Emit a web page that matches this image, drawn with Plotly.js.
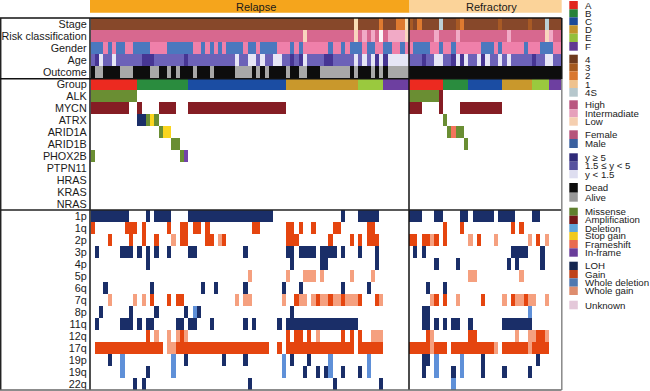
<!DOCTYPE html>
<html><head><meta charset="utf-8">
<script src="https://cdn.plot.ly/plotly-3.0.1.min.js"></script>
<style>html,body{margin:0;padding:0;background:#fff}#c{width:650px;height:391px}</style>
</head><body><div id="c"></div>
<script>
// state codes
const GA=0,GB=1,GC=2,GD=3,GE=4,GF=5,
      S4=6,S3=7,S2=8,S1=9,S4S=10,
      HIGH=11,INTER=12,LOW=13,
      FEMALE=14,MALE=15,
      AGE5=16,AGE15=17,AGE0=18,
      DEAD=19,ALIVE=20,
      MIS=21,AMP=22,DEL=23,STOP=24,FS=25,INF=26,
      LOH=27,GAIN=28,WDEL=29,WGAIN=30,UNK=31;
const stateColors=["#EC2A20","#2A8C3E","#1B4DA3","#C9982C","#9AC93E","#6D3FA0",
 "#87482A","#A85A25","#DE7A30","#F8DDB4","#BCD0D6",
 "#D7688F","#F1AAC6","#F9D6BE",
 "#EF80AA","#4B78BE",
 "#463593","#6C62B8","#E6E6F6",
 "#0D0D0D","#A8A8A8",
 "#6A8E33","#851D24","#5AA6DC","#FAD51F","#F4745C","#7342A8",
 "#1A2E68","#E5450F","#5F90D8","#F5A07F","#FBF6F9"];

const nSamples=111;
const rowLabels=["Stage","Risk classification","Gender","Age","Outcome","Group","ALK","MYCN","ATRX","ARID1A","ARID1B","PHOX2B","PTPN11","HRAS","KRAS","NRAS","1p","1q","2p","3p","4p","5p","6q","7q","8p","11q","12q","17q","19p","19q","22q"];

// Each row: [state, first sample, last sample]
const stage=[[S4,0,110],[S1,62,62],[S2,68,68],[S2,72,73],[S1,74,74],[S3,75,75],[S2,77,77],[S4S,82,82],[S3,86,86],[S2,87,87],[S3,96,96],[S3,103,103],[S4S,107,107]];
const risk=[[HIGH,0,110],[LOW,50,50],[LOW,62,62],[INTER,64,64],[INTER,66,66],[UNK,68,68],[INTER,70,73],[LOW,74,74],[INTER,81,81],[INTER,86,86],[INTER,98,98],[LOW,107,107],[INTER,108,108]];
const gender=[[MALE,0,2],[FEMALE,3,3],[MALE,4,4],[FEMALE,5,5],[MALE,6,7],[FEMALE,8,9],[MALE,10,13],[FEMALE,14,17],[MALE,18,23],[FEMALE,24,25],[MALE,26,26],[FEMALE,27,27],[MALE,28,28],[FEMALE,29,29],[MALE,30,30],[FEMALE,31,31],[MALE,32,35],[FEMALE,36,36],[MALE,37,38],[FEMALE,39,39],[MALE,40,43],[FEMALE,44,46],[MALE,47,47],[FEMALE,48,48],[MALE,49,49],[FEMALE,50,55],[MALE,56,56],[FEMALE,57,58],[MALE,59,59],[FEMALE,60,60],[MALE,61,63],[FEMALE,64,64],[MALE,65,66],[FEMALE,67,68],[MALE,69,70],[FEMALE,71,72],[MALE,73,73],[FEMALE,74,75],[MALE,76,79],[FEMALE,80,81],[MALE,82,82],[FEMALE,83,84],[MALE,85,85],[FEMALE,86,91],[MALE,92,94],[FEMALE,95,95],[MALE,96,96],[FEMALE,97,101],[MALE,102,102],[FEMALE,103,105],[MALE,106,108],[FEMALE,109,110]];
const age=[[AGE15,0,110],[AGE5,1,1],[AGE0,2,2],[AGE0,5,5],[AGE5,12,14],[AGE5,22,22],[AGE0,34,34],[AGE0,37,38],[AGE0,40,40],[AGE0,43,44],[AGE5,47,47],[AGE5,49,49],[AGE0,50,50],[AGE5,55,56],[AGE0,62,62],[AGE0,64,64],[AGE0,66,66],[AGE5,67,67],[AGE0,68,68],[AGE5,69,69],[AGE0,70,74],[AGE5,78,78],[AGE0,81,82],[AGE5,85,85],[AGE0,86,86],[AGE5,87,87],[AGE0,88,88],[AGE0,91,91],[AGE5,92,92],[AGE0,93,93],[AGE0,96,96],[AGE0,98,98],[AGE5,104,104],[AGE0,107,108]];
const outcome=[[DEAD,0,110],[ALIVE,1,2],[ALIVE,7,9],[ALIVE,14,15],[ALIVE,18,18],[ALIVE,20,20],[ALIVE,24,24],[ALIVE,28,28],[ALIVE,34,37],[ALIVE,39,39],[ALIVE,41,41],[ALIVE,46,46],[ALIVE,49,50],[ALIVE,54,60],[ALIVE,62,62],[ALIVE,66,66],[ALIVE,68,68],[ALIVE,70,74]];
const group=[[GA,0,10],[GB,11,22],[GC,23,45],[GD,46,62],[GE,63,68],[GF,69,74],[GA,75,82],[GB,83,88],[GC,89,96],[GD,97,103],[GE,104,107],[GF,108,110]];
const alk=[[MIS,0,10],[MIS,75,81],[AMP,82,82]];
const mycn=[[AMP,0,8],[AMP,11,11],[AMP,16,19],[AMP,23,45],[AMP,75,77],[AMP,82,82],[AMP,87,96]];
const atrx=[[LOH,11,12],[MIS,13,13],[STOP,14,14],[MIS,15,15],[MIS,83,83]];
const arid1a=[[MIS,16,16],[STOP,17,18],[MIS,84,84],[FS,85,85],[MIS,86,87]];
const arid1b=[[MIS,19,20],[MIS,88,88]];
const phox2b=[[MIS,0,0],[MIS,21,21],[INF,22,22]];
const ptpn11=[],hras=[],kras=[],nras=[];
const c1p=[[LOH,0,8],[LOH,13,13],[LOH,15,18],[LOH,23,42],[LOH,59,59],[LOH,63,67],[LOH,75,77],[LOH,81,82],[LOH,87,88],[LOH,90,94],[LOH,96,99],[LOH,104,105]];
const c1q=[[GAIN,0,0],[GAIN,8,10],[GAIN,12,12],[GAIN,18,18],[GAIN,21,22],[GAIN,24,25],[GAIN,27,27],[GAIN,38,39],[GAIN,46,47],[GAIN,49,49],[GAIN,52,52],[GAIN,57,58],[GAIN,65,66],[GAIN,83,83],[GAIN,87,87],[GAIN,99,99],[GAIN,101,101]];
const c2p=[[GAIN,4,4],[GAIN,9,9],[GAIN,12,12],[GAIN,15,15],[WGAIN,19,19],[GAIN,21,22],[GAIN,27,28],[WGAIN,30,30],[GAIN,31,31],[GAIN,46,48],[GAIN,56,56],[GAIN,61,61],[GAIN,63,63],[GAIN,65,67],[GAIN,75,76],[GAIN,78,79],[WGAIN,80,80],[GAIN,81,81],[GAIN,83,83],[WGAIN,89,89],[GAIN,91,91],[WGAIN,95,95],[WGAIN,103,103],[GAIN,105,105],[WGAIN,107,107]];
const c3p=[[LOH,1,1],[LOH,7,9],[LOH,11,11],[LOH,13,13],[LOH,15,15],[LOH,18,18],[LOH,23,24],[LOH,36,36],[LOH,46,47],[LOH,49,52],[LOH,54,57],[LOH,59,59],[LOH,63,63],[LOH,67,67],[LOH,76,76],[LOH,78,78],[LOH,99,102],[LOH,106,106]];
const c4p=[[LOH,13,13],[LOH,47,47],[LOH,54,55],[LOH,67,67],[LOH,81,81],[LOH,86,86],[LOH,98,98],[LOH,100,100],[LOH,106,106]];
const c5p=[[WGAIN,37,37],[WGAIN,46,46],[WGAIN,50,52],[WGAIN,54,54],[WGAIN,61,61],[WGAIN,66,66],[WGAIN,89,90],[WGAIN,101,101]];
const c6q=[[LOH,3,3],[LOH,14,14],[LOH,26,26],[LOH,29,29],[LOH,36,36],[LOH,45,45],[LOH,49,49],[LOH,59,59],[LOH,65,65],[LOH,79,79],[LOH,83,83]];
const c7q=[[WGAIN,4,4],[WGAIN,10,10],[WGAIN,12,12],[GAIN,14,14],[GAIN,18,18],[GAIN,20,21],[WGAIN,34,34],[WGAIN,36,37],[WGAIN,45,45],[GAIN,48,48],[WGAIN,49,50],[WGAIN,52,52],[GAIN,53,53],[WGAIN,54,55],[GAIN,56,56],[WGAIN,57,58],[GAIN,59,59],[WGAIN,60,62],[GAIN,63,63],[GAIN,67,67],[WGAIN,68,68],[WGAIN,80,80],[GAIN,81,81],[GAIN,83,83],[WGAIN,86,86],[GAIN,92,92],[WGAIN,97,97],[GAIN,99,99],[WGAIN,100,101],[GAIN,102,102],[WGAIN,103,104],[WGAIN,107,107]];
const c8p=[[LOH,2,2],[LOH,9,9],[LOH,15,15],[LOH,22,22],[WDEL,24,24],[LOH,25,25],[LOH,47,47],[LOH,78,79],[WDEL,103,103]];
const c11q=[[LOH,1,1],[LOH,7,9],[LOH,11,11],[LOH,13,14],[LOH,20,21],[LOH,23,24],[LOH,28,28],[LOH,36,36],[LOH,38,38],[LOH,44,44],[LOH,46,62],[LOH,78,79],[LOH,81,81],[LOH,83,83],[LOH,85,86],[LOH,89,89],[LOH,97,103]];
const c12q=[[GAIN,13,13],[WGAIN,15,15],[WGAIN,18,18],[WGAIN,20,20],[GAIN,21,21],[WGAIN,22,22],[GAIN,46,46],[GAIN,48,49],[GAIN,51,51],[WGAIN,53,53],[GAIN,59,59],[GAIN,61,61],[GAIN,63,63],[WGAIN,66,68],[GAIN,79,79],[WGAIN,80,80],[GAIN,89,90],[WGAIN,100,100],[WGAIN,103,104],[GAIN,105,106],[WGAIN,107,107]];
const c17q=[[GAIN,1,16],[WGAIN,18,19],[GAIN,20,41],[GAIN,44,44],[GAIN,46,61],[GAIN,63,68],[GAIN,75,79],[WGAIN,80,80],[GAIN,81,83],[GAIN,85,94],[WGAIN,95,95],[GAIN,97,102],[WGAIN,103,103],[GAIN,104,107]];
const c19p=[[LOH,4,4],[WDEL,7,7],[WDEL,19,19],[LOH,22,22],[LOH,31,31],[LOH,36,36],[WDEL,45,45],[LOH,47,47],[LOH,51,51],[WDEL,56,56],[WDEL,65,65],[LOH,78,79],[WDEL,81,81],[WDEL,87,87],[LOH,92,92],[LOH,105,105]];
const c19q=[[WDEL,7,7],[LOH,13,13],[WDEL,19,19],[WDEL,45,45],[LOH,50,50],[LOH,53,53],[LOH,55,55],[WDEL,56,56],[LOH,59,59],[LOH,63,63],[WDEL,65,65],[LOH,78,78],[WDEL,81,81],[LOH,85,85],[WDEL,87,87],[LOH,92,92],[LOH,97,97],[LOH,103,103]];
const c22q=[[LOH,10,10],[LOH,12,12],[LOH,37,37],[LOH,57,57],[LOH,68,68],[WDEL,85,85]];

const rows=[stage,risk,gender,age,outcome,group,alk,mycn,atrx,arid1a,arid1b,phox2b,ptpn11,hras,kras,nras,c1p,c1q,c2p,c3p,c4p,c5p,c6q,c7q,c8p,c11q,c12q,c17q,c19p,c19q,c22q];

// Legend
const legendLabels=["A","B","C","D","E","F","4","3","2","1","4S","High","Intermadiate","Low","Female","Male","y \u2265 5","1.5 \u2264 y < 5","y < 1.5","Dead","Alive","Missense","Amplification","Deletion","Stop gain","Frameshift","In-frame","LOH","Gain","Whole deletion","Whole gain","Unknown"];
const legendColors=["#E0281F","#27823A","#1C4A98","#C2932C","#93BF3C","#623A92","#6E3A1E","#A5591F","#D9772F","#EEC28F","#B6C7CC","#B95780","#E6A0BB","#F5CFB0","#B6557B","#3A609F","#2F2A78","#56519E","#DEDEF0","#0D0D0D","#989898","#5F7F2E","#741719","#5FA5DA","#F0C91E","#E96B50","#6A3D9A","#15264F","#BF431B","#4F78B0","#DE8D6E","#E4C8D9"];
const legendTops=[1,9.3,17.3,25.3,33.7,42,54.7,63.3,71.3,80,88,100.3,109.3,117.3,130.3,139,153.3,161.7,170,183,192.7,207.7,215.7,224,232,240,248.3,261.7,270,278.3,286.7,300.7];
const legendBottoms=[9.3,17.3,25.3,33.7,42,50.7,63.3,71.3,80,88,96.7,109.3,117.3,125.7,139,148,161.7,170,178.3,192.7,201.7,215.7,224,232,240,248.3,256.7,270,278.3,286.7,295,309.3];

// Header bars
const panelTitles=["Relapse","Refractory"];
const panelColors=["#F5A51C","#FBD399"];

const W=650,H=391;
const px=x=>x/W, py=y=>1-y/H;
const N=stateColors.length;
const scale=[];
stateColors.forEach((c,i)=>{scale.push([i/N,c]);scale.push([(i+1)/N,c]);});

const z=rows.map(spans=>{
  const line=new Array(nSamples).fill(null);
  spans.forEach(([state,a,b])=>{for(let i=a;i<=b;i++)line[i]=state+0.5;});
  return line;
});

function line(x0,y0,x1,y1,color,width){
  return {type:'line',xref:'paper',yref:'paper',x0:px(x0),x1:px(x1),y0:py(y0),y1:py(y1),line:{color:color,width:width}};
}
function rect(x0,y0,x1,y1,color){
  return {type:'rect',xref:'paper',yref:'paper',x0:px(x0),x1:px(x1),y0:py(y0),y1:py(y1),fillcolor:color,line:{width:0}};
}
const shapes=[
  rect(90,0,409.5,12.8,panelColors[0]),
  rect(409.5,0,561.7,12.8,panelColors[1]),
  line(0,18,561.5,18,"#111",1.6),
  line(0.7,18,0.7,390,"#222",1.5),
  line(90,18,90,390,"#222",1.6),
  line(409,18,409,390,"#111",1.5),
  line(0,78.7,561.5,78.7,"#111",1.5),
  line(0,210,561.5,210,"#222",1.3),
  line(561.8,18,561.8,79,"#111",1.5),
  line(561.8,79,561.8,390,"#888",1.5),
  line(0,390,561.5,390,"#666",1.5)
];
legendColors.forEach((c,i)=>shapes.push(rect(569.3,legendTops[i],577.8,legendBottoms[i],c)));

const font="Liberation Sans, Arial, sans-serif";
const annotations=[
 {text:panelTitles[0],x:px(255.5),y:py(7),xref:'paper',yref:'paper',showarrow:false,xanchor:'center',yanchor:'middle',font:{family:font,size:11,color:"#1a1a1a"}},
 {text:panelTitles[1],x:px(491),y:py(7),xref:'paper',yref:'paper',showarrow:false,xanchor:'center',yanchor:'middle',font:{family:font,size:11,color:"#1a1a1a"}}
];
legendLabels.forEach((t,i)=>annotations.push({text:t,x:px(583),y:py((legendTops[i]+legendBottoms[i])/2),xref:'paper',yref:'paper',showarrow:false,xanchor:'left',yanchor:'middle',font:{family:font,size:9.7,color:"#1a1a1a"}}));

Plotly.newPlot('c',[{
  type:'heatmap',z:z,x:[...Array(nSamples).keys()],y:rowLabels.map((_,i)=>i),
  zmin:0,zmax:N,zauto:false,
  colorscale:scale,showscale:false,hoverongaps:false,xgap:0,ygap:0
}],{
  width:W,height:H,margin:{l:0,r:0,t:0,b:0,pad:0},paper_bgcolor:"#fff",plot_bgcolor:"#fff",
  showlegend:false,
  xaxis:{domain:[px(90.7),px(561.7)],range:[-0.5,nSamples-0.5],visible:false,fixedrange:true},
  yaxis:{domain:[py(390),py(18)],range:[rowLabels.length-0.5,-0.5],tickmode:'array',tickvals:rowLabels.map((_,i)=>i),ticktext:rowLabels,
    ticks:'',showgrid:false,zeroline:false,showline:false,automargin:false,fixedrange:true,ticklabelstandoff:3,
    tickfont:{family:font,size:10.8,color:"#1a1a1a"}},
  shapes:shapes,annotations:annotations
},{displayModeBar:false,staticPlot:true});
</script></body></html>
